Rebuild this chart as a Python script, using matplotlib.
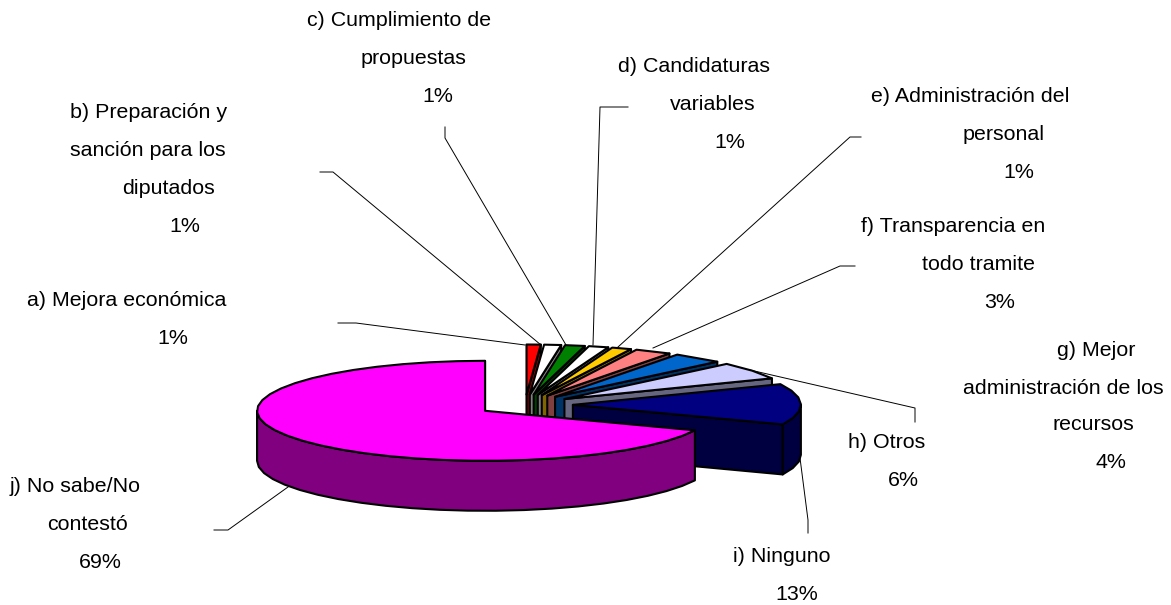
import matplotlib
matplotlib.use("Agg")
import matplotlib.pyplot as plt
import numpy as np

plt.rcParams["font.family"] = ["Liberation Sans", "DejaVu Sans"]

# values in percent, a) to j), clockwise from 12 o'clock (read from slice widths,
# the labels show them rounded)
values = [1.0, 1.2, 1.4, 1.4, 1.4, 2.6, 3.6, 5.6, 13.2, 68.6]
top_colors = ["#FF0000", "#FFFFFF", "#008000", "#FFFFFF", "#FFCC00",
              "#FF8080", "#0066CC", "#CCCCFF", "#000080", "#FF00FF"]
wall_colors = ["#800000", "#808080", "#004000", "#808080", "#806600",
               "#804040", "#003366", "#666680", "#000040", "#800080"]

label_lines = [
    ["a) Mejora económica", "1%"],
    ["b) Preparación y", "sanción para los", "diputados", "1%"],
    ["c) Cumplimiento de", "propuestas", "1%"],
    ["d) Candidaturas", "variables", "1%"],
    ["e) Administración del", "personal", "1%"],
    ["f) Transparencia en", "todo tramite", "3%"],
    ["g) Mejor", "administración de los", "recursos", "4%"],
    ["h) Otros", "6%"],
    ["i) Ninguno", "13%"],
    ["j) No sabe/No", "contestó", "69%"],
]
# left x and vertical centre of each text line, in pixels
label_pos = [
    [(27, 300), (157, 338)],
    [(70, 112), (70, 150), (122, 188), (169, 226)],
    [(307, 21), (361, 59), (422, 96)],
    [(618, 66), (670, 104), (714, 142)],
    [(871, 97), (963, 135), (1003, 173)],
    [(861, 227), (922, 264), (984, 302)],
    [(1057, 350), (963, 388), (1052, 425), (1096, 463)],
    [(848, 442), (888, 480)],
    [(733, 556), (775, 594)],
    [(10, 486), (47, 525), (79, 563)],
]
leaders = [
    [(338, 323), (356, 323), (525, 345)],
    [(320, 172), (333, 172), (541, 345)],
    [(445, 127), (445, 138), (566, 345)],
    [(628, 107), (600, 107), (593, 345)],
    [(861, 137), (850, 137), (618, 347)],
    [(855, 266), (840, 266), (653, 348)],
    [(915, 422), (915, 408), (750, 370)],
    [(808, 533), (808, 520), (800, 458)],
    [(214, 530), (228, 530), (288, 487)],
]

CX, CY = 525, 405
RX, RY = 228, 50
DEPTH = 50
EXPLODE = 0.21
STEP = 7.0


def arc(cx, cy, start, end):
    """Points on the ellipse going clockwise from start to end (degrees)."""
    n = max(int(abs(end - start) / STEP), 1)
    t = np.radians(np.linspace(start, end, n + 1))
    return cx + RX * np.cos(t), cy - RY * np.sin(t)


def draw_slice(ax, start, end, top, wall):
    mid = np.radians((start + end) / 2)
    cx = CX + EXPLODE * RX * np.cos(mid)
    cy = CY - EXPLODE * RY * np.sin(mid)
    style = dict(edgecolor="black", linewidth=1.5, joinstyle="round")

    # radial face on the clockwise side
    ex, ey = arc(cx, cy, end, end)
    ax.fill([cx, ex[0], ex[0], cx], [cy, ey[0], ey[0] + DEPTH, cy + DEPTH], facecolor=wall, **style)

    # outer wall, only the part facing the viewer (lower half of the ellipse)
    lo, hi = end, start
    for k in range(-1, 1):
        a, b = max(lo, 180 + 360 * k), min(hi, 360 + 360 * k)
        if b > a:
            wx, wy = arc(cx, cy, b, a)
            ax.fill(np.r_[wx, wx[::-1]], np.r_[wy, wy[::-1] + DEPTH], facecolor=wall, **style)

    ax_, ay_ = arc(cx, cy, start, end)
    ax.fill(np.r_[cx, ax_], np.r_[cy, ay_], facecolor=top, **style)


fig = plt.figure(figsize=(11.71, 6.05), dpi=100)
ax = fig.add_axes([0, 0, 1, 1])
ax.set_xlim(0, 1171)
ax.set_ylim(605, 0)
ax.axis("off")

for pts in leaders:
    xs, ys = zip(*pts)
    ax.plot(xs, ys, color="black", linewidth=0.7, zorder=1)

angle = 90.0
for val, top, wall in zip(values, top_colors, wall_colors):
    sweep = val / sum(values) * 360
    draw_slice(ax, angle, angle - sweep, top, wall)
    angle -= sweep

for lines, positions in zip(label_lines, label_pos):
    for line, (x, y) in zip(lines, positions):
        ax.text(x, y, line, fontsize=15.4, color="black", ha="left", va="center")

fig.savefig("out.png", dpi=100)
